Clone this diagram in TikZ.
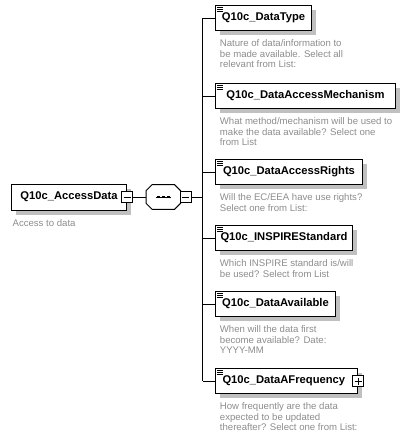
\documentclass[tikz,border=0pt]{standalone}
\usepackage{fontspec}
\setmainfont{Liberation Sans}
\usepackage{tikz}
\usetikzlibrary{positioning,shadows}
\usepackage{xcolor}
\definecolor{docgray}{RGB}{140,140,140}
\definecolor{shadowgray}{RGB}{192,192,192}
\tikzstyle{boxshadow} = [drop shadow={shadow xshift=3.5pt, shadow yshift=-3.5pt, fill=shadowgray, opacity=1}]
\tikzstyle{rootbox} = [rectangle, draw, fill=white, line width=0.75pt, font=\bfseries\fontsize{8.4}{10}\selectfont, minimum width=86.25pt, minimum height=19.5pt, inner xsep=3pt, boxshadow]
\tikzstyle{elembox} = [rectangle, draw, fill=white, line width=0.75pt, font=\bfseries\fontsize{8.4}{10}\selectfont, minimum height=18.75pt, inner xsep=3pt, boxshadow,
  path picture={\foreach \dy in {1.2pt,2.9pt,4.6pt} \draw [line width=0.55pt] ([xshift=1.3pt, yshift=-\dy]path picture bounding box.north west) -- ++(4.2pt,0pt);}]
\tikzstyle{docnote} = [align=left, inner sep=0pt, text=docgray, font=\fontsize{7.2}{7.9}\selectfont]
\tikzstyle{minusbox} = [rectangle, draw, fill=white, line width=0.75pt, minimum size=8.25pt, inner sep=0pt,
  path picture={\draw [line width=0.75pt] ([xshift=1.5pt]path picture bounding box.west) -- ([xshift=-1.5pt]path picture bounding box.east);}]
\tikzstyle{plusbox} = [rectangle, draw, fill=white, line width=0.75pt, minimum size=8.25pt, inner sep=0pt,
  path picture={\draw [line width=0.75pt] ([xshift=1.5pt]path picture bounding box.west) -- ([xshift=-1.5pt]path picture bounding box.east)
    ([yshift=-1.5pt]path picture bounding box.north) -- ([yshift=1.5pt]path picture bounding box.south);}]
\tikzstyle{seqbox} = [rectangle, minimum width=25.5pt, minimum height=18pt, inner sep=0pt]
\tikzstyle{wire} = [draw, line width=0.75pt]

\begin{document}
\begin{tikzpicture}[x=0.75pt, y=-0.75pt]
		\useasboundingbox (0,0) rectangle (405,432);
		% Place nodes
		\node [rootbox, anchor=west] (access) at (11,197) {Q10c\_AccessData};
		\node [docnote, below right=6.5pt and 1pt of access.south west] (accessdoc) {Access to data};
		\node [minusbox] (accessminus) at (access.east) {};
		\node [seqbox, right=9.75pt of accessminus] (seq) {};
		% Sequence outline and mark
		\draw [wire, fill=white] ([xshift=4.5pt]seq.north west) -- ([xshift=-4.5pt]seq.north east) -- ([yshift=-4.5pt]seq.north east)
			-- ([yshift=4.5pt]seq.south east) -- ([xshift=-4.5pt]seq.south east) -- ([xshift=4.5pt]seq.south west)
			-- ([yshift=4.5pt]seq.south west) -- ([yshift=-4.5pt]seq.north west) -- cycle;
		\draw [line width=0.75pt] ([xshift=-5.6pt]seq.center) -- ([xshift=5.6pt]seq.center);
		\foreach \dx in {-3.75pt,0pt,3.75pt}
			\fill ([xshift=\dx]seq.center) +(-1.1pt,-1.1pt) rectangle +(1.1pt,1.1pt);
		\node [minusbox, right=-0.75pt of seq] (seqminus) {};
		\coordinate [right=8.25pt of seqminus] (bar);
		
		\node [elembox, minimum width=72pt, anchor=north west] (dtype) at (215,5) {Q10c\_DataType};
		\node [docnote, below right=6.5pt and 3.5pt of dtype.south west] (dtypedoc) {Nature of data/information to\\be made available. Select all\\relevant from List:};
		\node [elembox, minimum width=135pt, below right=39pt and 0pt of dtype.south west] (dmech) {Q10c\_DataAccessMechanism};
		\node [docnote, below right=6.5pt and 3.5pt of dmech.south west] (dmechdoc) {What method/mechanism will be used to\\make the data available? Select one\\from List};
		\node [elembox, minimum width=110.25pt, below right=37.5pt and 0pt of dmech.south west] (drights) {Q10c\_DataAccessRights};
		\node [docnote, below right=6.5pt and 3.5pt of drights.south west] (drightsdoc) {Will the EC/EEA have use rights?\\Select one from List:};
		\node [elembox, minimum width=102.75pt, below right=30pt and 0pt of drights.south west] (dinspire) {Q10c\_INSPIREStandard};
		\node [docnote, below right=6.5pt and 3.5pt of dinspire.south west] (dinspiredoc) {Which INSPIRE standard is/will\\be used? Select from List};
		\node [elembox, minimum width=90pt, below right=30pt and 0pt of dinspire.south west] (davail) {Q10c\_DataAvailable};
		\node [docnote, below right=6.5pt and 3.5pt of davail.south west] (davaildoc) {When will the data first\\become available? Date:\\YYYY-MM};
		\node [elembox, minimum width=106.5pt, below right=38.25pt and 0pt of davail.south west] (dfreq) {Q10c\_DataAFrequency\hspace*{4pt}};
		\node [plusbox] (freqplus) at (dfreq.east) {};
		\node [docnote, below right=6.5pt and 3.5pt of dfreq.south west] (dfreqdoc) {How frequently are the data\\expected to be updated\\thereafter? Select one from List:};
		
		% Draw edges
		\path [wire] (accessminus) -- (seq);
		\path [wire] (seqminus) -- (bar);
		\path [wire] (bar |- dtype.west) -- (bar |- dfreq.west);
		\foreach \n in {dtype,dmech,drights,dinspire,davail,dfreq}
			\path [wire] (bar |- \n.west) -- (\n);
	\end{tikzpicture}
\end{document}
